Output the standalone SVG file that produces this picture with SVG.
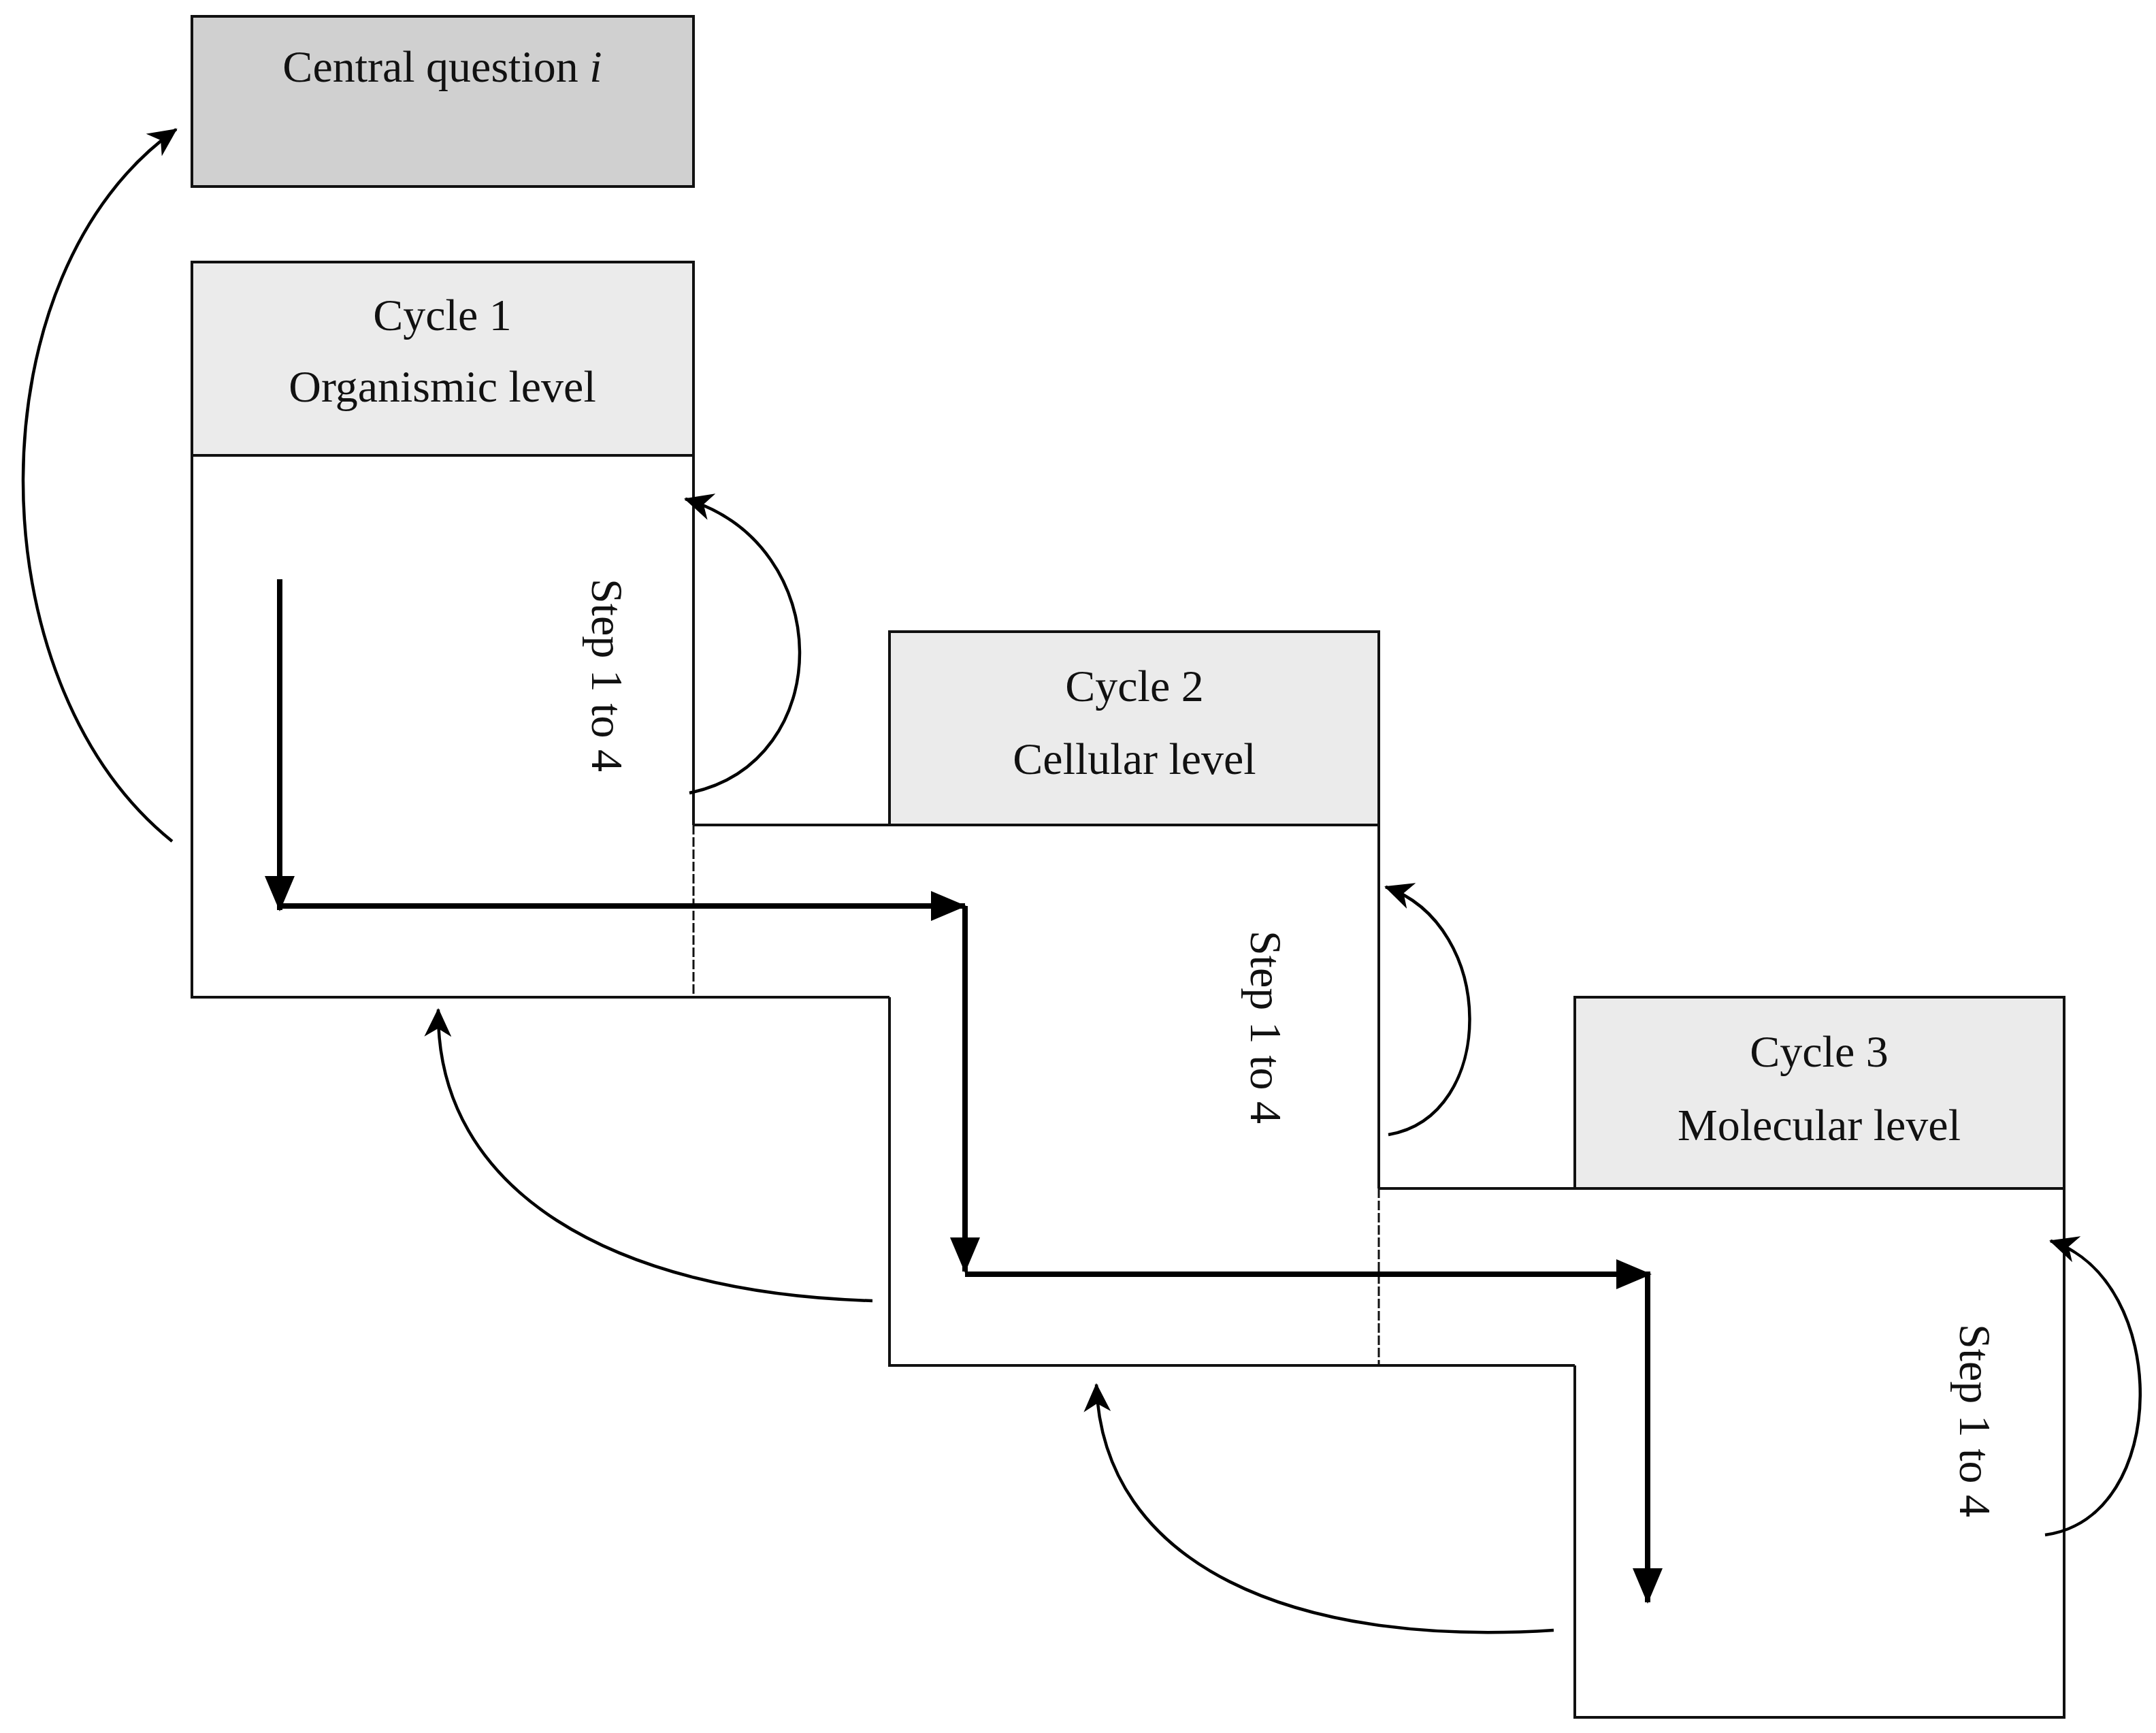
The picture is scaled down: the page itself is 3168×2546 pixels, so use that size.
<svg xmlns="http://www.w3.org/2000/svg" width="3168" height="2546" viewBox="0 0 3168 2546">
<style>
.t{font-family:"Liberation Serif",serif;font-size:66px;fill:#111;text-anchor:middle}
.ln{stroke:#111;stroke-width:4;fill:none}
.th{stroke:#000;stroke-width:8;fill:none}
.cv{stroke:#000;stroke-width:4.5;fill:none}
.hd{fill:#ebebeb;stroke:#111;stroke-width:4}
</style>
<defs>
<marker id="big" markerWidth="10" markerHeight="10" refX="9" refY="5" orient="auto" markerUnits="userSpaceOnUse" viewBox="0 0 10 10">
<path d="M0,0 L10,5 L0,10 z" fill="#000"/></marker>
<marker id="bh" markerWidth="52" markerHeight="44" refX="50" refY="22" orient="auto" markerUnits="userSpaceOnUse">
<path d="M0,0 L52,22 L0,44 z" fill="#000"/></marker>
<marker id="sh" markerWidth="44" markerHeight="40" refX="40" refY="20" orient="auto" markerUnits="userSpaceOnUse">
<path d="M0,0 L42,20 L0,40 L12,20 z" fill="#000"/></marker>
</defs>
<g id="central"><rect x="282" y="24" width="737" height="250" fill="#d0d0d0" stroke="#111" stroke-width="4"/>
<text class="t" x="650" y="120">Central question <tspan font-style="italic">i</tspan></text></g>
<g id="cycle1"><rect class="hd" x="282" y="385" width="737" height="284"/>
<text class="t" x="650" y="485">Cycle 1</text><text class="t" x="650" y="590">Organismic level</text>
<path class="ln" d="M282,669 V1465 H1307 M1019,669 V1212"/>
<line x1="1019" y1="1212" x2="1019" y2="1465" stroke="#111" stroke-width="3" stroke-dasharray="14,4"/>
<text class="t" transform="translate(870,992) rotate(90)">Step 1 to 4</text></g>
<g id="cycle2"><rect class="hd" x="1307" y="928" width="719" height="284"/>
<text class="t" x="1667" y="1030">Cycle 2</text><text class="t" x="1667" y="1137">Cellular level</text>
<path class="ln" d="M1019,1212 H2026 V1746 M1307,1465 V2006 H2314"/>
<line x1="2026" y1="1746" x2="2026" y2="2006" stroke="#111" stroke-width="3" stroke-dasharray="14,4"/>
<text class="t" transform="translate(1838,1509) rotate(90)">Step 1 to 4</text></g>
<g id="cycle3"><rect class="hd" x="2314" y="1465" width="719" height="281"/>
<text class="t" x="2673" y="1567">Cycle 3</text><text class="t" x="2673" y="1675">Molecular level</text>
<path class="ln" d="M2026,1746 H3033 V2523 H2314 V2006"/>
<text class="t" transform="translate(2880,2087) rotate(90)">Step 1 to 4</text></g>
<g id="connectors">
<path class="th" d="M411,851 V1337" marker-end="url(#bh)"/>
<path class="th" d="M411,1331 H1418" marker-end="url(#bh)"/>
<path class="th" d="M1418,1331 V1868" marker-end="url(#bh)"/>
<path class="th" d="M1418,1872 H2425" marker-end="url(#bh)"/>
<path class="th" d="M2421,1872 V2354" marker-end="url(#bh)"/>
<path class="cv" d="M253,1236 C-40,1000 -40,400 259,190" marker-end="url(#sh)"/>
<path class="cv" d="M1013,1165 C1230,1120 1230,800 1007,733" marker-end="url(#sh)"/>
<path class="cv" d="M2040,1667 C2200,1640 2200,1360 2036,1303" marker-end="url(#sh)"/>
<path class="cv" d="M3005,2255 C3190,2230 3190,1880 3013,1823" marker-end="url(#sh)"/>
<path class="cv" d="M1282,1911 C900,1900 640,1750 644,1483" marker-end="url(#sh)"/>
<path class="cv" d="M2283,2395 C1900,2420 1620,2300 1611,2034" marker-end="url(#sh)"/>
</g>
</svg>
